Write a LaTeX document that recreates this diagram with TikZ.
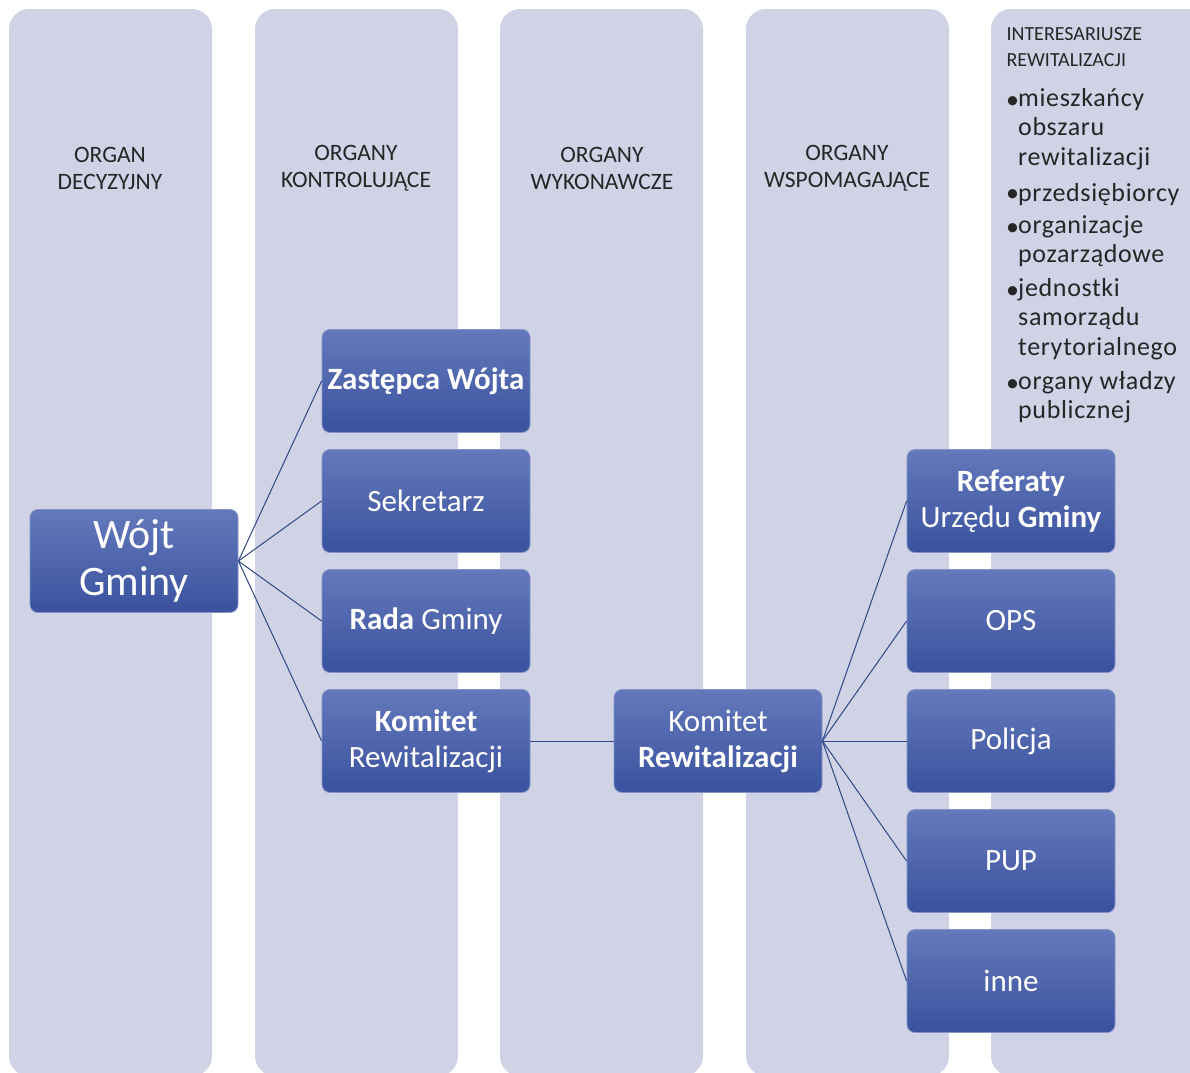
\documentclass[tikz,border=0pt]{standalone}
\usepackage{fontspec}
\setmainfont{Carlito}
\definecolor{lanefill}{HTML}{CFD3E5}
\definecolor{cardtop}{HTML}{6479BB}
\definecolor{cardmid}{HTML}{4560AC}
\definecolor{cardbot}{HTML}{3A529F}
\definecolor{cardline}{HTML}{8593C9}
\definecolor{linkblue}{HTML}{2F4886}
\definecolor{headgrey}{HTML}{262626}
\begin{document}
\begin{tikzpicture}[x=1pt, y=-1pt,
    lane/.style={fill=lanefill, rounded corners=20pt},
    lanehead/.style={text=headgrey, align=center, font=\fontsize{23.5}{27}\selectfont},
    card/.style={rounded corners=8pt, draw=cardline, line width=0.8pt,
        top color=cardtop, middle color=cardmid, bottom color=cardbot,
        minimum width=208pt, minimum height=103pt, inner sep=2pt,
        text=white, align=center, font=\fontsize{31}{36}\selectfont},
    stake/.style={text=headgrey, align=left, anchor=north west, inner sep=0pt,
        execute at begin node=\strut,
        font=\fontsize{26}{29.5}\selectfont\addfontfeatures{LetterSpace=2.5}},
    link/.style={draw=linkblue, line width=1pt}]
    \useasboundingbox (0,0) rectangle (1190,1072);
    % lanes
    \fill[lane] (9,9) rectangle (212,1076);
    \fill[lane] (255,9) rectangle (458,1076);
    \fill[lane] (500,9) rectangle (703,1076);
    \fill[lane] (746,9) rectangle (949,1076);
    \fill[lane] (991,9) rectangle (1215,1076);
    % lane titles
    \node[lanehead] (h1) at (110,168.5) {ORGAN\\DECYZYJNY};
    \node[lanehead] (h2) at (356,168.5) {ORGANY\\KONTROLUJĄCE};
    \node[lanehead] (h3) at (602,168.5) {ORGANY\\WYKONAWCZE};
    \node[lanehead] (h4) at (847,168.5) {ORGANY\\WSPOMAGAJĄCE};
    \node[lanehead, font=\fontsize{20}{26}\selectfont, align=left, anchor=west] (h5) at (1003,47) {INTERESARIUSZE\\REWITALIZACJI};
    % stakeholders
    \node[stake] (b1) at (1006,88) {•};
    \node[stake] (s1) at (1018,88) {mieszkańcy\\obszaru\\rewitalizacji};
    \node[stake] (b2) at (1006,181) {•};
    \node[stake] (s2) at (1018,181) {przedsiębiorcy};
    \node[stake] (b3) at (1006,215) {•};
    \node[stake] (s3) at (1018,215) {organizacje\\pozarządowe};
    \node[stake] (b4) at (1006,278) {•};
    \node[stake] (s4) at (1018,278) {jednostki\\samorządu\\terytorialnego};
    \node[stake] (b5) at (1006,371) {•};
    \node[stake] (s5) at (1018,371) {organy władzy\\publicznej};
    % boxes
    \node[card, font=\fontsize{42}{47}\selectfont] (wojt) at (134,561) {Wójt\\Gminy};
    \node[card] (zast) at (426,381) {\textbf{Zastępca Wójta}};
    \node[card] (sekr) at (426,501) {Sekretarz};
    \node[card] (rada) at (426,621) {\textbf{Rada} Gminy};
    \node[card] (komA) at (426,741) {\textbf{Komitet}\\Rewitalizacji};
    \node[card] (komB) at (718,741) {Komitet\\\textbf{Rewitalizacji}};
    \node[card] (ref) at (1011,501) {\textbf{Referaty}\\Urzędu \textbf{Gminy}};
    \node[card] (ops) at (1011,621) {OPS};
    \node[card] (pol) at (1011,741) {Policja};
    \node[card] (pup) at (1011,861) {PUP};
    \node[card] (inne) at (1011,981) {inne};
    % links
    \foreach \t in {zast,sekr,rada,komA}
        \draw[link] (wojt.east) -- (\t.west);
    \draw[link] (komA.east) -- (komB.west);
    \foreach \t in {ref,ops,pol,pup,inne}
        \draw[link] (komB.east) -- (\t.west);
\end{tikzpicture}
\end{document}
